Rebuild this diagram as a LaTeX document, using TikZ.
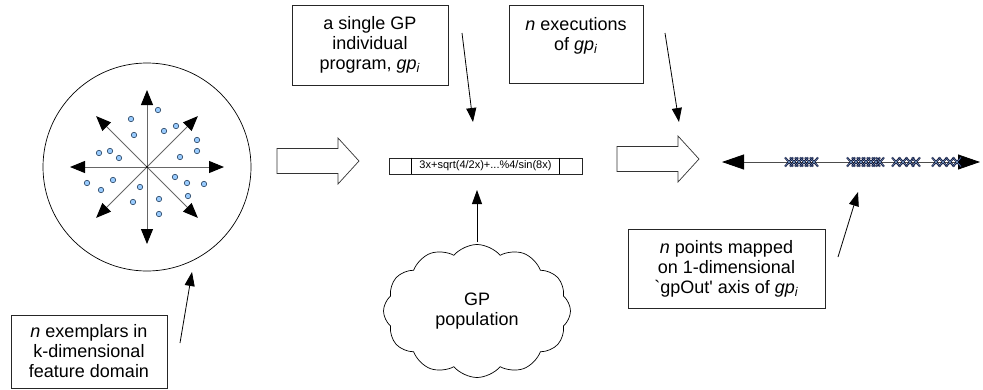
\documentclass[tikz,border=0pt]{standalone}
\usepackage{fontspec}
\setmainfont{Liberation Sans}
\usetikzlibrary{arrows.meta,shapes.symbols}

\definecolor{dotblue}{HTML}{99CCFF}
\definecolor{dotedge}{HTML}{1F3A5A}

\newcommand{\gpi}{\textit{gp}\textsubscript{\textit{i}}}

\tikzset{
  infobox/.style={draw=black!85, line width=0.7pt, align=center, inner sep=0pt},
  pointer/.style={-{Triangle[length=14pt,width=10pt]}, line width=0.8pt},
  axisray/.style={draw=black!60, line width=1pt, -{Triangle[length=15pt,width=12pt,color=black]}},
  sample/.style={draw=dotedge, fill=dotblue, line width=0.6pt},
  blockarrow/.style={draw=black!80, line width=0.7pt, fill=white},
  xmark/.style={draw=black!85!blue, line width=1.9pt},
  xmarklight/.style={draw=dotblue!80!black, line width=0.5pt}
}

\begin{document}
\begin{tikzpicture}[x=1pt, y=-1pt, font=\fontsize{18}{20}\selectfont]
    \useasboundingbox (0,0) rectangle (983,389);

    % Feature domain with k axes
    \node[draw, circle, line width=0.7pt, minimum size=208pt, inner sep=0pt] (domain) at (147,167) {};
    \coordinate (origin) at (147,167);
    \foreach \a in {0,90,180,270}
        \draw[axisray] (origin) -- ++(\a:77);
    \foreach \a in {45,135,225,315}
        \draw[axisray] (origin) -- ++(\a:72);
    \fill (origin) circle (1.2pt);

    % Exemplars
    \foreach \px/\py in {158/110, 131/119, 164/131, 176/126, 134/135, 197/140, 197/151,
                         99/153, 110/151, 119/158, 180/157, 87/183, 101/190, 113/180,
                         140/187, 175/177, 187/183, 204/184, 188/196, 159/199, 133/202, 159/214} {
        \filldraw[sample] (\px,\py) circle (2.7pt);
    }

    \node[infobox, minimum width=156pt, minimum height=73pt] (exemplars) at (89,351.5)
        {\textit{n} exemplars in\\k-dimensional\\feature domain};
    \coordinate (exTail) at (180,343);
    \coordinate (exTip) at (192,272);
    \draw[pointer] (exTail) -- (exTip);

    % Block arrows
    \foreach \bx/\by in {277/161, 617/159} {
        \draw[blockarrow] (\bx,\by-12.5) -- (\bx+61,\by-12.5) -- (\bx+61,\by-23) -- (\bx+82,\by)
            -- (\bx+61,\by+23) -- (\bx+61,\by+12.5) -- (\bx,\by+12.5) -- cycle;
    }

    % Single GP program
    \node[infobox, minimum width=193pt, minimum height=16pt, font=\fontsize{11}{12}\selectfont] (prog) at (485.5,166)
        {3x+sqrt(4/2x)+...\%4/sin(8x)};
    \draw[line width=0.7pt] ([xshift=23pt]prog.north west) -- ([xshift=23pt]prog.south west);
    \draw[line width=0.7pt] ([xshift=-23pt]prog.north east) -- ([xshift=-23pt]prog.south east);

    \node[infobox, minimum width=156pt, minimum height=80pt] (single) at (370,45)
        {a single GP\\individual\\program, \gpi};
    \coordinate (singleTail) at (462,33);
    \coordinate (singleTip) at (473,122);
    \draw[pointer] (singleTail) -- (singleTip);

    % GP population
    \node[cloud, draw, line width=0.7pt, cloud puffs=12, cloud puff arc=100, aspect=1.4,
          minimum width=187pt, minimum height=133pt, align=center] (pop) at (477,311) {GP\\population};
    \coordinate (popTail) at (477,242);
    \coordinate (popTip) at (477,190);
    \draw[pointer] (popTail) -- (popTip);

    % Executions
    \node[infobox, minimum width=134pt, minimum height=78pt] (execs) at (576,44)
        {\textit{n} executions\\of \gpi\\\phantom{x}};
    \coordinate (execTail) at (665,33);
    \coordinate (execTip) at (679,122);
    \draw[pointer] (execTail) -- (execTip);

    % gpOut axis
    \coordinate (axL) at (722,162);
    \coordinate (axR) at (980,162);
    \draw[{Triangle[length=22pt,width=15pt,color=black]}-{Triangle[length=22pt,width=15pt,color=black]},
          line width=0.8pt, black!70] (axL) -- (axR);
    \foreach \c in {789,794,799,804,809,814, 851,856,861,866,871,876,880,
                    896,903,910,916, 936,943,950,957} {
        \draw[xmark] (\c-4,157.5) -- (\c+4,166.5) (\c-4,166.5) -- (\c+4,157.5);
        \draw[xmarklight] (\c-4,157.5) -- (\c+4,166.5) (\c-4,166.5) -- (\c+4,157.5);
    }

    \node[infobox, minimum width=197pt, minimum height=79pt] (mapped) at (726.5,268.5)
        {\textit{n} points mapped\\on 1-dimensional\\\textasciigrave gpOut\textquotesingle{} axis of \gpi};
    \coordinate (mapTail) at (838,257);
    \coordinate (mapTip) at (858,192);
    \draw[pointer] (mapTail) -- (mapTip);
\end{tikzpicture}
\end{document}
